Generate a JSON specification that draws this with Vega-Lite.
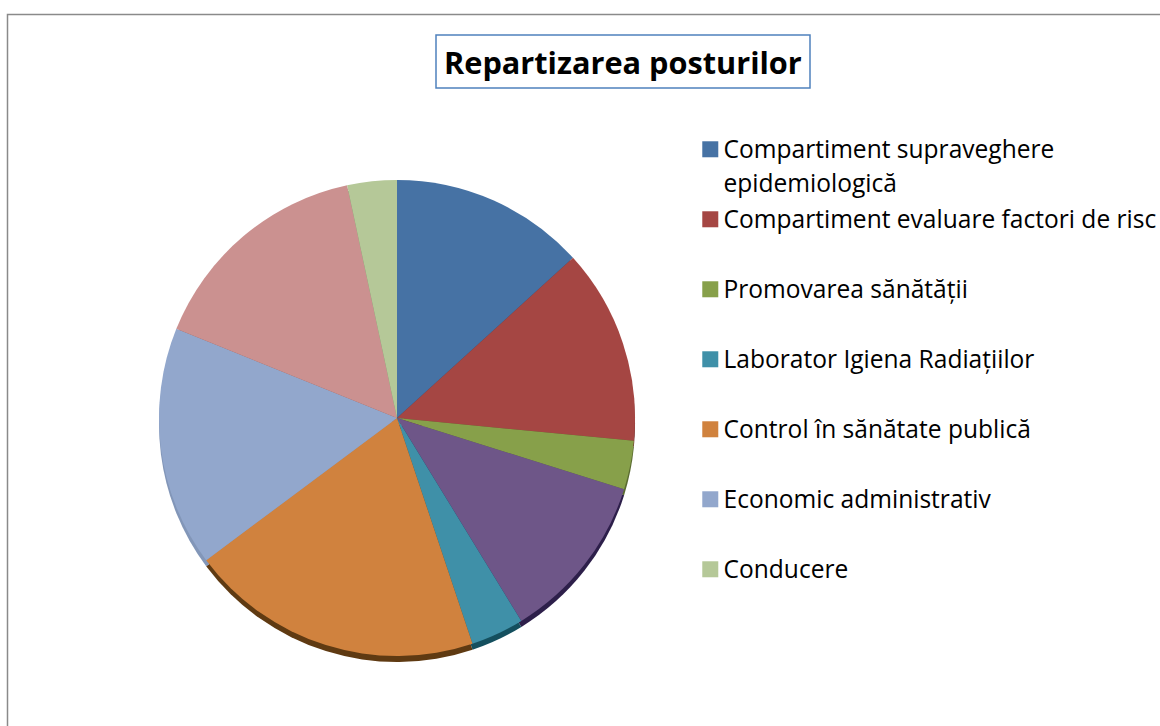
{
"$schema":"https://vega.github.io/schema/vega-lite/v6.json",
"width":1200,"height":760,
"autosize":"none",
"padding":{"left":7.5,"top":14.5,"right":0,"bottom":0},
"background":"white",
"view":{"stroke":"#8a8a8a","strokeWidth":1.5,"fill":"white"},
"data":{"values":[
{"name":"Compartiment supraveghere epidemiologică","o":1,"v":47.7},
{"name":"Compartiment evaluare factori de risc","o":2,"v":47.8},
{"name":"Promovarea sănătății","o":3,"v":11.9},
{"name":"Nespecificat A","o":4,"v":41.1},
{"name":"Laborator Igiena Radiațiilor","o":5,"v":13.0},
{"name":"Control în sănătate publică","o":6,"v":71.8},
{"name":"Economic administrativ","o":7,"v":58.7},
{"name":"Nespecificat B","o":8,"v":55.9},
{"name":"Conducere","o":9,"v":12.1}
]},
"layer":[
{"mark":{"type":"arc","outerRadius":238,"x":389.5,"y":409.5},
 "encoding":{
  "theta":{"field":"v","type":"quantitative","stack":true,"scale":{"domain":[0,360]}},
  "order":{"field":"o","type":"ordinal"},
  "fill":{"field":"name","type":"nominal","legend":null,
   "scale":{"domain":["Compartiment supraveghere epidemiologică","Compartiment evaluare factori de risc","Promovarea sănătății","Nespecificat A","Laborator Igiena Radiațiilor","Control în sănătate publică","Economic administrativ","Nespecificat B","Conducere"],
   "range":["#2c4a6e","#6e2d2b","#5a6b30","#2d1f4a","#144f5e","#5f3a12","#8296b8","#8a6060","#7a8a66"]}},
  "opacity":{"field":"name","type":"nominal","scale":{"range":[1,1,1,1,1,1,1,1,1]},
   "legend":{"title":"Repartizarea posturilor","values":[],"orient":"none","legendX":428.5,"legendY":20.5,"strokeColor":"#4f81bd","padding":8,"titleFont":"Open Sans","titleFontWeight":"bold","titleFontSize":30.7,"titleColor":"#000000","titlePadding":0,"titleLimit":700,"titleLineHeight":44,"titleBaseline":"line-top",
   "encoding":{"legend":{"strokeWidth":{"value":1.5}}}}}
 }},
{"mark":{"type":"arc","outerRadius":238,"x":389.5,"y":403.5},
 "encoding":{
  "theta":{"field":"v","type":"quantitative","stack":true,"scale":{"domain":[0,360]}},
  "order":{"field":"o","type":"ordinal"},
  "color":{"field":"name","type":"nominal",
   "scale":{"domain":["Compartiment supraveghere epidemiologică","Compartiment evaluare factori de risc","Promovarea sănătății","Nespecificat A","Laborator Igiena Radiațiilor","Control în sănătate publică","Economic administrativ","Nespecificat B","Conducere"],
   "range":["#4672a4","#a54643","#87a04a","#6e5688","#3f90a8","#d0823e","#92a7cc","#cb9190","#b5c898"]},
   "legend":{"title":null,"orient":"none","legendX":690.5,"legendY":122.5,"padding":0,"gridAlign":"all",
    "values":["Compartiment supraveghere epidemiologică","Compartiment evaluare factori de risc","Promovarea sănătății","Laborator Igiena Radiațiilor","Control în sănătate publică","Economic administrativ","Conducere"],
    "symbolType":"square","symbolSize":256,"symbolStrokeWidth":0,"labelFont":"Open Sans","labelFontSize":24.55,"labelColor":"#000000","labelOffset":1,"rowPadding":10,"labelLimit":500,"labelBaseline":"alphabetic",
    "labelExpr":"datum.label == 'Compartiment supraveghere epidemiologică' ? ['Compartiment supraveghere','epidemiologică'] : datum.label",
    "encoding":{"labels":{"lineHeight":{"value":34},"dy":{"value":9}}}}}
 }}
],
"resolve":{"scale":{"color":"independent","fill":"independent"},"legend":{"color":"independent","fill":"independent"}}
}
